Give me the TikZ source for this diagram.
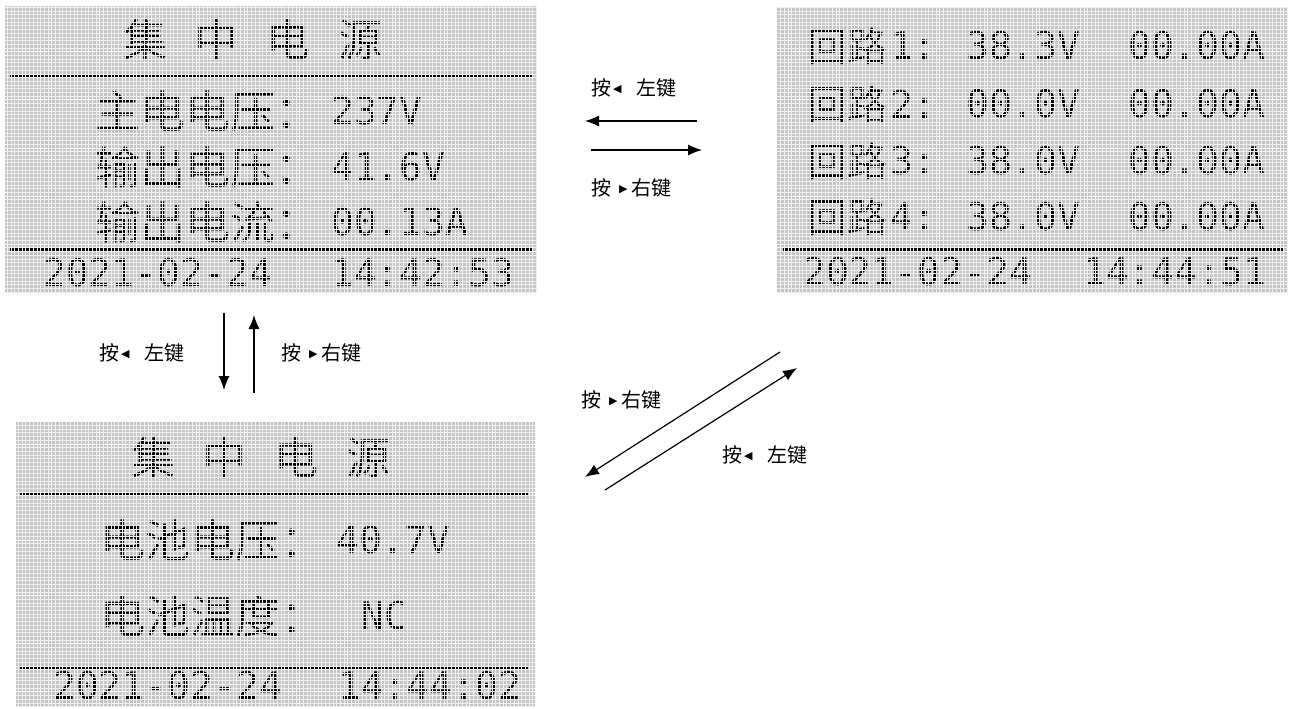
\documentclass[tikz,border=0pt]{standalone}
\usepackage{fontspec}
\newfontfamily\cjk{Noto Sans CJK SC}
\newfontfamily\lcdmono{DejaVu Sans Mono}
\newfontfamily\symb{DejaVu Sans}
\usetikzlibrary{arrows.meta}
\tikzset{>={Latex[length=14pt,width=11pt]}}
\definecolor{lcdbg}{RGB}{196,196,196}
\definecolor{lcdline}{RGB}{240,240,240}
% small key triangles
\newcommand{\keyl}{\raisebox{3pt}{\symb\fontsize{11}{11}\selectfont ◀}}
\newcommand{\keyr}{\raisebox{3pt}{\symb\fontsize{11}{11}\selectfont ▶}}

\begin{document}
\begin{tikzpicture}[x=1pt,y=-1pt,
	cnbig/.style={font=\cjk\fontsize{45}{45}\selectfont, inner sep=0, anchor=west},
	cnmid/.style={font=\cjk\fontsize{40}{40}\selectfont, inner sep=0, anchor=west},
	cntitle/.style={font=\cjk\fontsize{44}{44}\selectfont, inner sep=0},
	digits/.style={font=\lcdmono\fontsize{38}{38}\selectfont, inner sep=0, anchor=west},
	keylabel/.style={font=\cjk\fontsize{20}{20}\selectfont, inner sep=0, anchor=west},
	dotrow/.style={line width=2.6pt},
	pixgrid/.style={lcdline, line width=0.9pt, step=3.7pt},
	keyarrow/.style={->, line width=1.2pt}]
	\useasboundingbox (0,0) rectangle (1290,709);

	% main page
	\fill [lcdbg] (5,6) rectangle (537,293);
	\node [cntitle] (ta) at (253,40) {集\hskip28pt 中\hskip28pt 电\hskip28pt 源};
	\draw [dotrow] (10,75.85) -- (532,75.85);
	\node [cnbig] (a1) at (95,111) {主电电压：};
	\node [digits] (a1v) at (331,111) {237V};
	\node [cnbig] (a2) at (95,167) {输出电压：};
	\node [digits] (a2v) at (331,167) {41.6V};
	\node [cnbig] (a3) at (95,222) {输出电流：};
	\node [digits] (a3v) at (331,222) {00.13A};
	\draw [dotrow] (10,249.75) -- (532,249.75);
	\node [digits] (ad) at (43,273) {2021-02-24};
	\node [digits] (at) at (331,273) {14:42:53};
	\draw [pixgrid] (5,293) grid (537,6);

	% loop page
	\fill [lcdbg] (777,7) rectangle (1288,293);
	\node [cnmid] (b1) at (807,46) {回路};
	\node [digits] (b1n) at (890,46) {1:};
	\node [digits] (b1v) at (966,46) {38.3V};
	\node [digits] (b1a) at (1128,46) {00.00A};
	\node [cnmid] (b2) at (807,104) {回路};
	\node [digits] (b2n) at (890,104) {2:};
	\node [digits] (b2v) at (966,104) {00.0V};
	\node [digits] (b2a) at (1128,104) {00.00A};
	\node [cnmid] (b3) at (807,161) {回路};
	\node [digits] (b3n) at (890,161) {3:};
	\node [digits] (b3v) at (966,161) {38.0V};
	\node [digits] (b3a) at (1128,161) {00.00A};
	\node [cnmid] (b4) at (807,217) {回路};
	\node [digits] (b4n) at (890,217) {4:};
	\node [digits] (b4v) at (966,217) {38.0V};
	\node [digits] (b4a) at (1128,217) {00.00A};
	\draw [dotrow] (783,249.75) -- (1283,249.75);
	\node [digits] (bd) at (803,272) {2021-02-24};
	\node [digits] (bt) at (1083,272) {14:44:51};
	\draw [pixgrid] (777,293) grid (1288,7);

	% battery page
	\fill [lcdbg] (16,422) rectangle (535,707);
	\node [cntitle] (tc) at (261,458) {集\hskip28pt 中\hskip28pt 电\hskip28pt 源};
	\draw [dotrow] (20,493.95) -- (528,493.95);
	\node [cnbig] (c1) at (100,540) {电池电压：};
	\node [digits] (c1v) at (336,540) {40.7V};
	\node [cnbig] (c2) at (100,616) {电池温度：};
	\node [digits] (c2v) at (361,616) {NC};
	\draw [dotrow] (20,667.85) -- (528,667.85);
	\node [digits] (cd) at (53,686) {2021-02-24};
	\node [digits] (ct) at (338,686) {14:44:02};
	\draw [pixgrid] (16,707) grid (535,422);

	% key arrows
	\coordinate (ab1) at (697,121);
	\coordinate (ab2) at (585,121);
	\coordinate (ba1) at (591,150);
	\coordinate (ba2) at (702,150);
	\draw [keyarrow] (ab1) -- (ab2);
	\draw [keyarrow] (ba1) -- (ba2);
	\node [keylabel] (kab) at (591,88) {按\hskip2pt\keyl\hskip15pt 左键};
	\node [keylabel] (kba) at (591,188) {按\hskip8pt\keyr\hskip4pt 右键};

	\coordinate (ac1) at (224,313);
	\coordinate (ac2) at (224,390);
	\coordinate (ca1) at (254,393);
	\coordinate (ca2) at (254,315);
	\draw [keyarrow] (ac1) -- (ac2);
	\draw [keyarrow] (ca1) -- (ca2);
	\node [keylabel] (kac) at (99,353) {按\hskip2pt\keyl\hskip15pt 左键};
	\node [keylabel] (kca) at (281,353) {按\hskip8pt\keyr\hskip4pt 右键};

	\coordinate (bc1) at (780,352);
	\coordinate (bc2) at (585,477);
	\coordinate (cb1) at (605,490);
	\coordinate (cb2) at (797,368);
	\draw [keyarrow] (bc1) -- (bc2);
	\draw [keyarrow] (cb1) -- (cb2);
	\node [keylabel] (kbc) at (581,400) {按\hskip8pt\keyr\hskip4pt 右键};
	\node [keylabel] (kcb) at (722,455) {按\hskip2pt\keyl\hskip15pt 左键};
\end{tikzpicture}
\end{document}
